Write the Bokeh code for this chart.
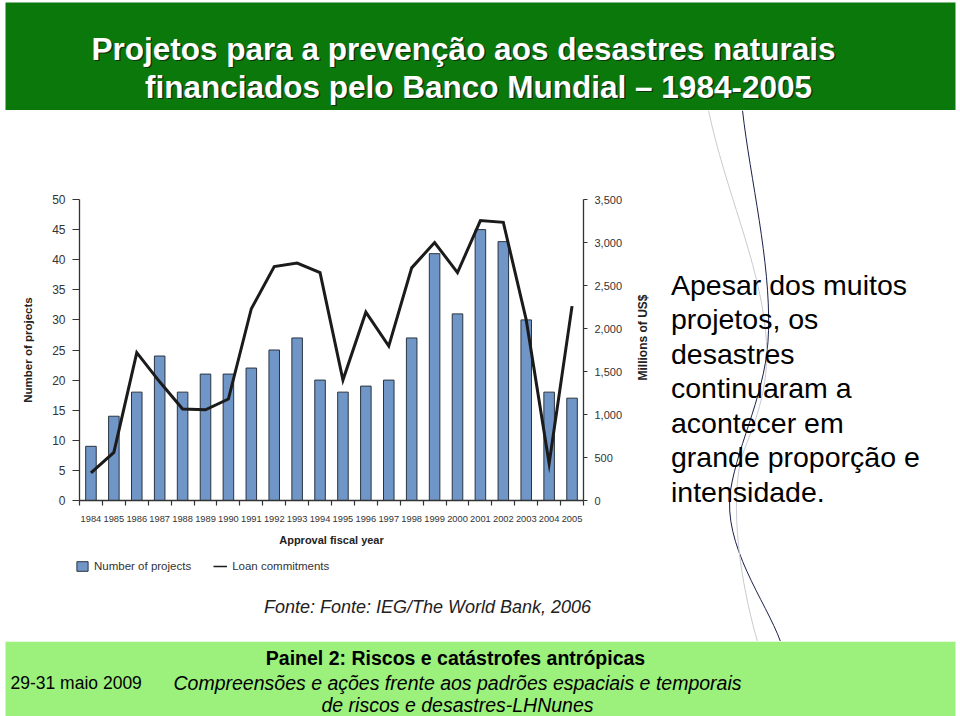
import math
from bokeh.plotting import figure
from bokeh.layouts import column, row
from bokeh.models import (Range1d, LinearAxis, FixedTicker, NumeralTickFormatter,
                          Legend, LegendItem)
from bokeh.core.properties import value
from bokeh.embed import file_html
from bokeh.resources import INLINE

# ---------------- data ----------------
years = [1984, 1985, 1986, 1987, 1988, 1989, 1990, 1991, 1992, 1993, 1994,
         1995, 1996, 1997, 1998, 1999, 2000, 2001, 2002, 2003, 2004, 2005]
num_projects = [9, 14, 18, 24, 18, 21, 21, 22, 25, 27, 20,
                18, 19, 20, 27, 41, 31, 45, 43, 30, 18, 17]
loan_commitments = [320, 560, 1720, 1380, 1065, 1055, 1180, 2230, 2720, 2760, 2650,
                    1400, 2190, 1795, 2705, 3000, 2650, 3255, 3235, 2100, 430, 2260]
left_ticks = [0, 5, 10, 15, 20, 25, 30, 35, 40, 45, 50]
right_ticks = [0, 500, 1000, 1500, 2000, 2500, 3000, 3500]

title_lines = ["Projetos para a prevenção aos desastres naturais",
               "financiados pelo Banco Mundial – 1984-2005"]
paragraph_lines = ["Apesar dos muitos", "projetos, os", "desastres", "continuaram a",
                   "acontecer em", "grande proporção e", "intensidade."]
source_text = "Fonte: Fonte: IEG/The World Bank, 2006"
footer_title = "Painel 2: Riscos e catástrofes antrópicas"
footer_date = "29-31 maio 2009"
footer_sub = ["Compreensões e ações frente aos padrões espaciais e temporais",
              "de riscos e desastres-LHNunes"]

# ---------------- styles ----------------
GREEN = "#0b780b"
LIGHT_GREEN = "#9cf07c"
BAR = "#6f96c6"
BAR_EDGE = "#2a3440"
LINE = "#1b1b1b"
AX = "#333333"
SANS = "Liberation Sans"


def no_align(f):
    if "frame_align" in f.properties():
        f.frame_align = False
    return f


def blank(width, height, xr, yr):
    f = figure(width=width, height=height, x_range=Range1d(*xr), y_range=Range1d(*yr),
               output_backend="svg", toolbar_location=None, min_border=0,
               x_axis_location=None, y_axis_location=None, outline_line_color=None,
               background_fill_color="white", border_fill_color="white")
    f.grid.visible = False
    return no_align(f)


# ---------------- header ----------------
header = blank(960, 110, (0, 960), (110, 0))
header.quad(left=[5], right=[955], top=[2], bottom=[110], fill_color=GREEN, line_color=None)
hx = [463, 478]
hy = [48, 86]
header.text(x=[v + 1.5 for v in hx], y=[v + 1.5 for v in hy], text=title_lines,
            text_align="center", text_baseline="middle", text_color="#123012",
            text_font=value(SANS), text_font_style="bold", text_font_size="31.5px")
header.text(x=hx, y=hy, text=title_lines, text_align="center", text_baseline="middle",
            text_color="white", text_font=value(SANS), text_font_style="bold",
            text_font_size="31.5px")

# ---------------- chart ----------------
chart = figure(width=630, height=440, x_range=Range1d(1983.5, 2005.5), y_range=Range1d(0, 50),
               output_backend="svg", toolbar_location=None,
               min_border_left=79, min_border_right=47, min_border_top=89, min_border_bottom=50)
no_align(chart)
chart.outline_line_color = None
chart.grid.visible = False
chart.extra_y_ranges = {"loan": Range1d(0, 3500)}

bars = chart.vbar(x=years, top=num_projects, width=0.46, bottom=0,
                  fill_color=BAR, line_color=BAR_EDGE, line_width=1)
loan = chart.line(x=years, y=loan_commitments, y_range_name="loan",
                  line_color=LINE, line_width=3, line_join="miter")

xa = chart.xaxis[0]
xa.ticker = FixedTicker(ticks=years, minor_ticks=[y - 0.5 for y in years] + [years[-1] + 0.5])
xa.major_tick_out = 0
xa.major_tick_in = 0
xa.minor_tick_out = 5
xa.minor_tick_in = 0
xa.minor_tick_line_color = AX
xa.minor_tick_line_width = 1.2
xa.axis_line_color = AX
xa.axis_line_width = 1.3
xa.major_label_standoff = 10
xa.major_label_text_font = SANS
xa.major_label_text_font_size = "9.3px"
xa.major_label_text_color = AX
xa.axis_label = "Approval fiscal year"
xa.axis_label_standoff = 9
xa.axis_label_text_font = SANS
xa.axis_label_text_font_style = "bold"
xa.axis_label_text_font_size = "11px"
xa.axis_label_text_color = "#222222"

ya = chart.yaxis[0]
ya.ticker = FixedTicker(ticks=left_ticks)
ya.major_tick_out = 7
ya.major_tick_in = 0
ya.minor_tick_line_color = None
ya.major_tick_line_color = AX
ya.major_tick_line_width = 1.2
ya.axis_line_color = AX
ya.axis_line_width = 1.3
ya.major_label_standoff = 7
ya.major_label_text_font = SANS
ya.major_label_text_font_size = "12px"
ya.major_label_text_color = AX
ya.axis_label = "Number of projects"
ya.axis_label_standoff = 15
ya.axis_label_text_font = SANS
ya.axis_label_text_font_style = "bold"
ya.axis_label_text_font_size = "11.5px"
ya.axis_label_text_color = "#222222"

ra = LinearAxis(y_range_name="loan", ticker=FixedTicker(ticks=right_ticks),
                formatter=NumeralTickFormatter(format="0,0"))
ra.major_tick_out = 4
ra.major_tick_in = 0
ra.minor_tick_line_color = None
ra.major_tick_line_color = AX
ra.major_tick_line_width = 1.2
ra.axis_line_color = AX
ra.axis_line_width = 1.3
ra.major_label_standoff = 7
ra.major_label_text_font = SANS
ra.major_label_text_font_size = "11px"
ra.major_label_text_color = AX
chart.add_layout(ra, "right")

# ---------------- legend + source line under the chart ----------------
# legend keys: hidden copies of the two series, only used to draw the legend swatches
src = blank(630, 91, (0, 630), (641, 550))
bar_key = src.vbar(x=years, top=num_projects, width=0.46, fill_color=BAR,
                   line_color=BAR_EDGE, line_width=1, visible=False)
line_key = src.line(x=years, y=loan_commitments, line_color=LINE, line_width=1.5, visible=False)
legend = Legend(items=[LegendItem(label="Number of projects", renderers=[bar_key]),
                       LegendItem(label="Loan commitments", renderers=[line_key])],
                location=(75, 69), orientation="horizontal", glyph_width=14, glyph_height=12,
                label_height=12, label_standoff=5, spacing=22, padding=0, margin=0,
                border_line_color=None, background_fill_alpha=0, inactive_fill_alpha=0,
                label_text_font=SANS, label_text_font_size="11.5px", label_text_color="#333333")
src.add_layout(legend)
src.text(x=[427], y=[606], text=[source_text], text_align="center", text_baseline="middle",
         text_font=value(SANS), text_font_style="italic", text_font_size="18px",
         text_color="#222222")

# ---------------- side text ----------------
side = blank(330, 531, (630, 960), (641, 110))
side.bezier(x0=[742, 768, 730], y0=[110, 330, 490], x1=[768, 730, 780], y1=[330, 490, 641],
            cx0=[750, 767, 722], cy0=[180, 390, 545], cx1=[770, 738, 765], cy1=[260, 440, 600],
            line_color="#1a1f4a", line_width=1)
side.bezier(x0=[708, 765, 740], y0=[110, 330, 460], x1=[765, 740, 757], y1=[330, 460, 641],
            cx0=[725, 772, 728], cy0=[190, 390, 520], cx1=[758, 750, 745], cy1=[260, 430, 600],
            line_color="#c9c9d2", line_width=1)
side.text(x=[642], y=[337], text=["Millions of US$"], angle=math.pi / 2,
          text_align="center", text_baseline="middle", text_font=value(SANS),
          text_font_style="bold", text_font_size="12px", text_color="#222222")
side.text(x=[670.5] * len(paragraph_lines), y=[284 + 34.5 * i for i in range(len(paragraph_lines))],
          text=paragraph_lines, text_align="left", text_baseline="middle",
          text_font=value(SANS), text_font_size="28.5px", text_color="black")

# ---------------- footer ----------------
footer = blank(960, 75, (0, 960), (716, 641))
footer.quad(left=[5], right=[955], top=[641], bottom=[716], fill_color=LIGHT_GREEN, line_color=None)
footer.text(x=[455], y=[657], text=[footer_title], text_align="center", text_baseline="middle",
            text_font=value(SANS), text_font_style="bold", text_font_size="19.5px", text_color="black")
footer.text(x=[10], y=[682], text=[footer_date], text_align="left", text_baseline="middle",
            text_font=value(SANS), text_font_size="17.5px", text_color="black")
footer.text(x=[457, 457], y=[682, 704], text=footer_sub, text_align="center",
            text_baseline="middle", text_font=value(SANS), text_font_style="italic",
            text_font_size="19.5px", text_color="black")

layout = column(header, row(column(chart, src), side), footer)
open("out.html", "w").write(file_html(layout, INLINE))
